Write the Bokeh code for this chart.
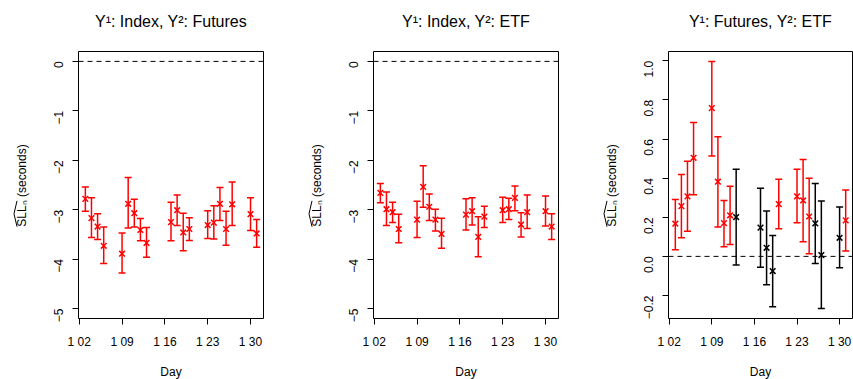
import math
from bokeh.plotting import figure
from bokeh.layouts import row, column
from bokeh.models import ColumnDataSource, Range1d, FixedTicker, Span
from bokeh.core.properties import value
from bokeh.embed import file_html
from bokeh.resources import INLINE

# ---------------- data ----------------
days = [3, 4, 5, 6, 9, 10, 11, 12, 13, 17, 18, 19, 20, 23, 24, 25, 26, 27, 30, 31]
x_ticks = [2, 9, 16, 23, 30]
x_tick_labels = ["1 02", "1 09", "1 16", "1 23", "1 30"]

titles = ["Y\u00b9: Index, Y\u00b2: Futures", "Y\u00b9: Index, Y\u00b2: ETF", "Y\u00b9: Futures, Y\u00b2: ETF"]

idx_fut_est = [-2.78, -3.17, -3.34, -3.73, -3.89, -2.88, -3.07, -3.41, -3.67, -3.25,
               -3.01, -3.46, -3.39, -3.31, -3.26, -2.88, -3.39, -2.89, -3.09, -3.48]
idx_fut_hi = [-2.54, -2.76, -3.08, -3.35, -3.47, -2.35, -2.79, -3.18, -3.36, -2.85,
              -2.70, -3.07, -3.16, -3.02, -2.92, -2.55, -3.03, -2.44, -2.76, -3.20]
idx_fut_lo = [-3.03, -3.56, -3.60, -4.09, -4.28, -3.37, -3.35, -3.63, -3.96, -3.63,
              -3.32, -3.83, -3.62, -3.58, -3.59, -3.22, -3.72, -3.32, -3.42, -3.76]

idx_etf_est = [-2.66, -2.99, -3.05, -3.39, -3.20, -2.54, -2.94, -3.20, -3.49, -3.10,
               -3.03, -3.55, -3.14, -3.01, -2.99, -2.76, -3.30, -3.05, -3.03, -3.34]
idx_etf_hi = [-2.47, -2.64, -2.85, -3.09, -2.83, -2.11, -2.68, -2.99, -3.17, -2.78,
              -2.76, -3.14, -2.93, -2.75, -2.77, -2.52, -3.06, -2.70, -2.72, -3.08]
idx_etf_lo = [-2.86, -3.32, -3.26, -3.67, -3.56, -2.95, -3.22, -3.43, -3.78, -3.41,
              -3.31, -3.95, -3.36, -3.26, -3.20, -3.02, -3.55, -3.38, -3.33, -3.60]

fut_etf_est = [0.167, 0.257, 0.307, 0.504, 0.758, 0.382, 0.170, 0.210, 0.201, 0.147,
               0.044, -0.075, 0.267, 0.307, 0.286, 0.204, 0.169, 0.007, 0.095, 0.184]
fut_etf_hi = [0.291, 0.419, 0.486, 0.685, 0.997, 0.612, 0.286, 0.358, 0.446, 0.348,
              0.232, 0.107, 0.394, 0.445, 0.496, 0.399, 0.373, 0.283, 0.252, 0.339]
fut_etf_lo = [0.034, 0.095, 0.129, 0.315, 0.513, 0.150, 0.049, 0.061, -0.044, -0.056,
              -0.145, -0.257, 0.141, 0.172, 0.075, 0.014, -0.036, -0.267, -0.058, 0.027]

y_ticks_a = [0, -1, -2, -3, -4, -5]
y_tick_labels_a = ["0", "\u22121", "\u22122", "\u22123", "\u22124", "\u22125"]
y_ticks_b = [-0.2, 0.0, 0.2, 0.4, 0.6, 0.8, 1.0]
y_tick_labels_b = ["\u22120.2", "0.0", "0.2", "0.4", "0.6", "0.8", "1.0"]

y_label = "SLL\u2099 (seconds)"
x_label = "Day"

# ---------------- layout constants ----------------
FONT = "Liberation Sans"
W_TOTAL = 853
TITLE_H = 50
FH = 267
TOP, BOT = 1, 61
H = TOP + FH + BOT          # 329
LW = 40                     # y-label strip width
BL = 38                     # left border of each panel
FW = [185, 185, 184]
BR = [32, 32, 1]


def padded(lo, hi):
    d = 0.04 * (hi - lo)
    return lo - d, hi + d


def bare(width, height, yr):
    s = figure(width=width, height=height, x_range=Range1d(0, width),
               y_range=Range1d(0, yr), min_border=0,
               x_axis_type=None, y_axis_type=None,
               toolbar_location=None, output_backend="svg")
    s.grid.visible = False
    s.outline_line_color = None
    s.background_fill_color = "white"
    s.border_fill_color = "white"
    return s


def title_strip():
    s = bare(W_TOTAL, TITLE_H, TITLE_H)
    centers = []
    left = 0
    for fw, br in zip(FW, BR):
        centers.append(left + LW + BL + fw / 2)
        left += LW + BL + fw + br
    s.text(x=centers, y=[TITLE_H - 20.7] * 3, text=titles,
           text_font=value(FONT), text_font_size=value("16px"),
           text_align="center", text_baseline="middle", text_color="black")
    return s


def ylabel_strip():
    # the strip's frame is aligned with the panels' frames (FH px tall)
    s = bare(LW, H, FH)
    frame_top = TITLE_H + TOP
    yc = FH - (186 - frame_top)     # vertical centre of the label
    xc = 21.5
    s.text(x=[xc], y=[yc], text=[y_label], angle=math.pi / 2,
           text_font=value(FONT), text_font_size=value("12px"),
           text_align="center", text_baseline="middle", text_color="black")
    y0 = yc - 41.5
    s.line(x=[xc - 5, xc - 8, xc - 5], y=[y0, y0 + 13, y0 + 26],
           line_color="black", line_width=1)
    return s


def make_panel(est, lo, hi, ylim, yticks, ylabels, fw, br):
    colors = ["black" if (l <= 0 <= h) else "red" for l, h in zip(lo, hi)]
    src = ColumnDataSource(dict(day=days, est=est, lo=lo, hi=hi, color=colors))
    x0, x1 = padded(min(days), max(days))
    y0, y1 = padded(*ylim)
    p = figure(frame_width=fw, frame_height=FH,
               min_border_left=BL, min_border_right=br,
               min_border_top=TOP, min_border_bottom=BOT,
               x_range=Range1d(x0, x1), y_range=Range1d(y0, y1),
               toolbar_location=None, output_backend="svg")
    p.background_fill_color = "white"
    p.border_fill_color = "white"
    p.outline_line_color = "black"
    p.outline_line_width = 1
    p.outline_line_alpha = 1
    p.xgrid.visible = False
    p.ygrid.visible = False

    for ax in (p.xaxis[0], p.yaxis[0]):
        ax.axis_line_color = None
        ax.major_tick_in = 0
        ax.major_tick_out = 6
        ax.major_tick_line_color = "black"
        ax.minor_tick_line_color = None
        ax.major_label_text_font = FONT
        ax.major_label_text_font_size = "12px"
        ax.major_label_text_color = "black"
    p.xaxis.ticker = FixedTicker(ticks=x_ticks)
    p.xaxis.major_label_overrides = dict(zip(x_ticks, x_tick_labels))
    p.xaxis.major_label_standoff = 10
    p.xaxis.axis_label = x_label
    p.xaxis.axis_label_text_font = FONT
    p.xaxis.axis_label_text_font_size = "12px"
    p.xaxis.axis_label_text_font_style = "normal"
    p.xaxis.axis_label_text_color = "black"
    p.xaxis.axis_label_standoff = 13
    p.yaxis.ticker = FixedTicker(ticks=yticks)
    p.yaxis.major_label_overrides = dict(zip(yticks, ylabels))
    p.yaxis.major_label_orientation = math.pi / 2
    p.yaxis.major_label_standoff = 14

    p.add_layout(Span(location=0, dimension="width", line_color="black",
                      line_dash="5 4", line_width=1))

    p.segment(x0="day", y0="lo", x1="day", y1="hi", source=src,
              line_color="color", line_width=1.5)
    p.scatter(x="day", y="lo", source=src, marker="dash", size=7,
              line_color="color", line_width=1.5)
    p.scatter(x="day", y="hi", source=src, marker="dash", size=7,
              line_color="color", line_width=1.5)
    p.scatter(x="day", y="est", source=src, marker="x", size=8,
              line_color="color", line_width=1.5)
    return p


p1 = make_panel(idx_fut_est, idx_fut_lo, idx_fut_hi, (-5, 0),
                y_ticks_a, y_tick_labels_a, FW[0], BR[0])
p2 = make_panel(idx_etf_est, idx_etf_lo, idx_etf_hi, (-5, 0),
                y_ticks_a, y_tick_labels_a, FW[1], BR[1])
p3 = make_panel(fut_etf_est, fut_etf_lo, fut_etf_hi,
                (min(fut_etf_lo), max(fut_etf_hi)),
                y_ticks_b, y_tick_labels_b, FW[2], BR[2])

layout = column(title_strip(),
                row(ylabel_strip(), p1, ylabel_strip(), p2, ylabel_strip(), p3))
open("out.html", "w").write(file_html(layout, INLINE))
